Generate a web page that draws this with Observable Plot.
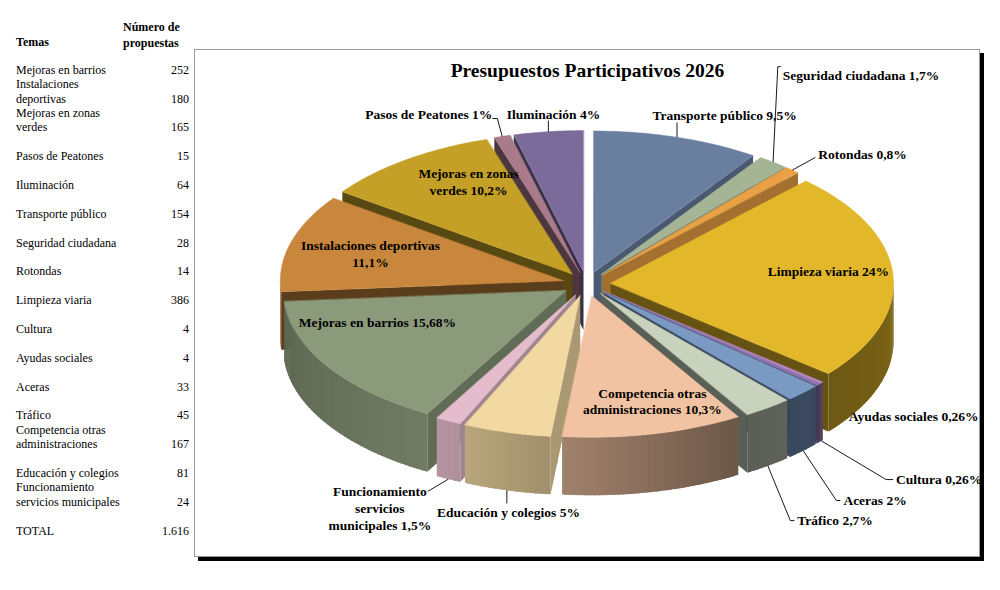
<!DOCTYPE html>
<html>
<head>
<meta charset="utf-8">
<script src="https://cdn.jsdelivr.net/npm/d3@7"></script>
<script src="https://cdn.jsdelivr.net/npm/@observablehq/plot@0.6"></script>
<style>
  body { margin: 0; background: #fff; font-family: "Liberation Serif", serif; color: #000; }
  .hdr { position: absolute; font-weight: bold; font-size: 12px; }
  .row { position: absolute; left: 16px; width: 173px; height: 28.8px; display: flex; align-items: flex-end; font-size: 12px; line-height: 14.5px; }
  .row .name { width: 108px; }
  .row .val { flex: 1; text-align: right; }
  #box { position: absolute; left: 194px; top: 49px; width: 784px; height: 506px; border: 1px solid #9a9a9a; box-shadow: 4px 4px 0 #000; background: #fff; }
  #box svg { display: block; overflow: visible; }
</style>
</head>
<body>
<div class="hdr" style="left:16px;top:34.75px;line-height:14.5px;">Temas</div>
<div class="hdr" style="left:123px;top:19px;line-height:16px;">Número de<br>propuestas</div>
<div id="box"></div>
<script>
// ---------------- data ----------------
const categories = [
  "Mejoras en barrios", "Instalaciones deportivas", "Mejoras en zonas verdes",
  "Pasos de Peatones", "Iluminación", "Transporte público", "Seguridad ciudadana",
  "Rotondas", "Limpieza viaria", "Cultura", "Ayudas sociales", "Aceras", "Tráfico",
  "Competencia otras administraciones", "Educación y colegios",
  "Funcionamiento servicios municipales"
];
const values = [252, 180, 165, 15, 64, 154, 28, 14, 386, 4, 4, 33, 45, 167, 81, 24];
const pieLabels = [
  "Mejoras en barrios 15,68%", "Instalaciones deportivas\n11,1%", "Mejoras en zonas\nverdes 10,2%",
  "Pasos de Peatones 1%", "Iluminación 4%", "Transporte público 9,5%", "Seguridad ciudadana 1,7%",
  "Rotondas 0,8%", "Limpieza viaria 24%", "Cultura 0,26%", "Ayudas sociales 0,26%", "Aceras 2%",
  "Tráfico 2,7%", "Competencia otras\nadministraciones 10,3%", "Educación y colegios 5%",
  "Funcionamiento\nservicios\nmunicipales 1,5%"
];
const chartTitle = "Presupuestos Participativos 2026";
const totalLabel = "TOTAL";

// ---------------- styles ----------------
const sliceColors = [
  "#8b9a7b", "#c9873d", "#c4a126", "#a87a8a", "#7b6b9a", "#6a7fa0", "#a4b494", "#eaa045",
  "#e2b82a", "#b485c0", "#8a78b0", "#7a9ac4", "#c9d2bd", "#f2c3a2", "#f2d9a2", "#e4bccb"
];
const firstSliceAngle = 209.4;   // degrees, clockwise from 12 o'clock
const TILT = 0.5, DEPTH = 0.205, EXPLODE = 0.085;
const PXU = 283;                  // pixels per pie radius
const W = 784, H = 506, CX = 391, CY = 233.5;
const PX = 1 / PXU;

// label layout relative to each slice (angle offset in degrees, radius factor)
const labelLayout = [
  {dA: 12.8, r: 0.785},
  {dA: 0.2, r: 0.793},
  {dA: 6.1, r: 0.836},
  {dA: 0.5, r: 1.25, anchor: "end", leader: {z: 0, path: [[0, 5], [5, 5]]}},
  {dA: 1.6, r: 1.21, leader: {z: 0, vertical: 7}},
  {dA: 5.0, r: 1.294, leader: {z: 0, vertical: 8}},
  {dA: -12.3, r: 1.634, anchor: "start", leader: {z: 0, path: [[-2, -8], [-5, -8]]}},
  {dA: -0.5, r: 1.234, anchor: "start", leader: {z: 0, path: [[-3, 4]]}},
  {dA: -3.0, r: 0.86},
  {dA: 11.4, r: 1.757, anchor: "start", leader: {z: 1, path: [[-3, 1], [-10, 1]]}},
  {dA: 4.1, r: 1.312, anchor: "start"},
  {dA: 14.1, r: 1.773, anchor: "start", leader: {z: 1, path: [[-3, 1], [-7, 1]]}},
  {dA: 12.1, r: 1.824, anchor: "start", leader: {z: 1, path: [[-3, 1], [-7, 1]]}},
  {dA: -3.2, r: 0.856},
  {dA: -5.3, r: 1.631, leader: {z: 1, vertical: -8}},
  {dA: -1.9, r: 1.739, leader: {z: 1, path: [[48, -16]]}}
];

// ---------------- table ----------------
const total = d3.sum(values);
const fmt = d3.formatLocale({decimal: ",", thousands: ".", grouping: [3], currency: ["", ""]}).format(",d");
const rows = categories.map((c, i) => [c, fmt(values[i])]).concat([[totalLabel, fmt(total)]]);
rows.forEach(([n, v], i) => {
  const div = document.createElement("div");
  div.className = "row";
  div.style.top = (48.45 + 28.8 * i) + "px";
  const a = document.createElement("span"); a.className = "name"; a.textContent = n;
  const b = document.createElement("span"); b.className = "val"; b.textContent = v;
  div.append(a, b);
  document.body.appendChild(div);
});

// ---------------- pie geometry ----------------
const DEG = Math.PI / 180;
const start = firstSliceAngle * DEG;
const arcs = d3.pie().sort(null).value(d => d).startAngle(start).endAngle(start + 2 * Math.PI)(values);
const slices = arcs.map((a, i) => {
  const a0 = a.startAngle % (2 * Math.PI);
  const a1 = a0 + (a.endAngle - a.startAngle);
  return {i, a0, a1, mid: (a0 + a1) / 2, color: sliceColors[i]};
});
function P(s, th, r, z) {
  const u = r * Math.sin(th) + EXPLODE * Math.sin(s.mid);
  const v = r * Math.cos(th) + EXPLODE * Math.cos(s.mid);
  return {x: u, y: -v * TILT + z * DEPTH, v};
}
function shade(c, m) { const k = d3.rgb(c); return d3.rgb(k.r * m, k.g * m, k.b * m).formatHex(); }
const wallLight = d3.scaleLinear().domain([90, 150, 185, 210, 270]).range([0.55, 0.45, 0.66, 0.8, 0.65]).clamp(true);

const walls = [];
for (const s of slices) {
  for (const [lo, hi] of [[Math.PI / 2, 3 * Math.PI / 2], [Math.PI / 2 + 2 * Math.PI, 3 * Math.PI / 2 + 2 * Math.PI]]) {
    const b0 = Math.max(s.a0, lo), b1 = Math.min(s.a1, hi);
    if (b1 <= b0) continue;
    const n = Math.max(1, Math.ceil((b1 - b0) / (1 * DEG)));
    for (let k = 0; k < n; k++) {
      const t0 = b0 + (b1 - b0) * k / n, tm = b0 + (b1 - b0) * (k + 0.5) / n;
      const t1 = k < n - 1 ? b0 + (b1 - b0) * (k + 1.6) / n : b1;   // overlap next segment to hide seams
      const deg = (tm / DEG) % 360;
      walls.push({key: P(s, tm, 1, 0).v, col: shade(s.color, wallLight(deg)),
        pts: [P(s, t0, 1, 0), P(s, t1, 1, 0), P(s, t1, 1, 1), P(s, t0, 1, 1)]});
    }
  }
  const cuts = [[s.a0, Math.sin(s.a0) < -1e-6, s.a0 - Math.PI / 2], [s.a1, Math.sin(s.a1) > 1e-6, s.a1 + Math.PI / 2]];
  for (const [ang, vis, nrm] of cuts) {
    if (!vis) continue;
    const nd = ((nrm / DEG) % 360 + 360) % 360;
    const m = nd < 150 ? 0.7 : 0.45;
    const N = 4;
    for (let k = 0; k < N; k++) {
      const r0 = k / N, r1 = k < N - 1 ? (k + 1.15) / N : 1;
      walls.push({key: P(s, ang, (2 * k + 1) / (2 * N), 0).v, col: shade(s.color, m),
        pts: [P(s, ang, r0, 0), P(s, ang, r1, 0), P(s, ang, r1, 1), P(s, ang, r0, 1)]});
    }
  }
}
walls.sort((a, b) => b.key - a.key);
const tops = slices.map(s => {
  const n = Math.max(2, Math.ceil((s.a1 - s.a0) / DEG));
  const pts = [P(s, s.mid, 0, 0)];
  for (let k = 0; k <= n; k++) pts.push(P(s, s.a0 + (s.a1 - s.a0) * k / n, 1, 0));
  return {col: s.color, pts};
});
const wallPts = [], topPts = [];
walls.forEach((f, id) => f.pts.forEach(p => wallPts.push({id, x: p.x, y: p.y, col: f.col})));
tops.forEach((f, id) => f.pts.forEach(p => topPts.push({id, x: p.x, y: p.y, col: f.col})));

// labels and leaders
const labelRows = [];
const leaderPts = [];
slices.forEach((s, i) => {
  const L = labelLayout[i];
  const th = s.mid + L.dA * DEG;
  const lx = L.r * Math.sin(th), ly = -L.r * Math.cos(th) * TILT;
  labelRows.push({x: lx, y: ly, text: pieLabels[i], anchor: L.anchor || "middle"});
  if (L.leader) {
    const sp = P(s, s.mid, 1, L.leader.z);
    const pts = [];
    if (L.leader.vertical !== undefined) {
      pts.push({x: sp.x, y: ly + L.leader.vertical * PX});
    } else {
      for (const [dx, dy] of L.leader.path) pts.push({x: lx + dx * PX, y: ly + dy * PX});
    }
    pts.push({x: sp.x, y: sp.y});
    pts.forEach(p => leaderPts.push({id: i, ...p}));
  }
});

const textStyle = {x: "x", y: "y", text: "text", fontWeight: "bold", fontSize: 13.5, lineHeight: 1.25, fill: "#000"};
const chart = Plot.plot({
  width: W, height: H, margin: 0,
  x: {domain: [-1, 1], range: [CX - PXU, CX + PXU], axis: null},
  y: {domain: [-1, 1], range: [CY - PXU, CY + PXU], axis: null},
  color: {type: "identity"},
  style: {fontFamily: "Liberation Serif", background: "transparent", color: "#000", overflow: "visible"},
  marks: [
    Plot.line(wallPts, {x: "x", y: "y", z: "id", fill: "col", stroke: "none", curve: "linear-closed"}),
    Plot.line(topPts, {x: "x", y: "y", z: "id", fill: "col", stroke: "col", strokeWidth: 0.5, curve: "linear-closed"}),
    Plot.line(leaderPts, {x: "x", y: "y", z: "id", stroke: "#1a1a1a", strokeWidth: 1, strokeLinejoin: "miter", strokeLinecap: "butt"}),
    Plot.text(labelRows.filter(d => d.anchor === "middle"), {...textStyle, textAnchor: "middle"}),
    Plot.text(labelRows.filter(d => d.anchor === "start"), {...textStyle, textAnchor: "start"}),
    Plot.text(labelRows.filter(d => d.anchor === "end"), {...textStyle, textAnchor: "end"}),
    Plot.text([chartTitle], {frameAnchor: "top", dy: 20, lineAnchor: "middle", fontWeight: "bold", fontSize: 19.5, fill: "#000"})
  ]
});
document.getElementById("box").appendChild(chart);
</script>
</body>
</html>
